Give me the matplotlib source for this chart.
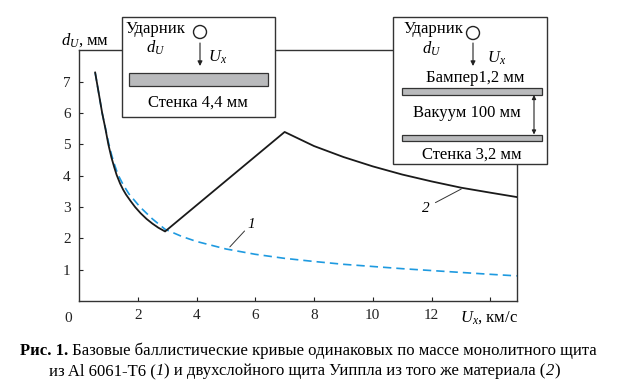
import matplotlib
matplotlib.use("Agg")
import matplotlib.pyplot as plt
from matplotlib.patches import Rectangle, Circle

plt.rcParams['font.family'] = ['Liberation Serif', 'DejaVu Serif']
plt.rcParams['mathtext.fontset'] = 'custom'
plt.rcParams['mathtext.rm'] = 'Liberation Serif'
plt.rcParams['mathtext.it'] = 'Liberation Serif:italic'

# ---- data ----
# curve 1: monolithic shield (blue dashed)
u1 = [0.55, 0.79, 0.9, 1.0, 1.1, 1.2, 1.33, 1.5, 1.7, 2.08, 2.5, 2.93, 3.5, 4.0, 5.0,
      6.0, 7.0, 8.0, 9.0, 10.0, 11.0, 12.0, 13.0, 14.0, 14.9]
d1 = [7.3, 6.0, 5.52, 5.08, 4.7, 4.38, 4.03, 3.72, 3.42, 3.0, 2.62, 2.29, 2.06, 1.9,
      1.66, 1.49, 1.36, 1.26, 1.17, 1.1, 1.03, 0.97, 0.91, 0.85, 0.80]
# curve 2: Whipple shield (black)
u2 = [0.55, 0.79, 0.9, 1.0, 1.1, 1.2, 1.28, 1.4, 1.5, 1.6, 1.75, 1.91, 2.1, 2.3, 2.5,
      2.7, 2.93, 7.0, 8.0, 9.0, 10.0, 11.0, 12.0, 13.0, 14.0, 14.9]
d2 = [7.3, 6.0, 5.5, 5.0, 4.6, 4.27, 4.03, 3.75, 3.56, 3.4, 3.2, 3.0, 2.8, 2.62, 2.47,
      2.34, 2.22, 5.4, 4.95, 4.6, 4.3, 4.04, 3.82, 3.62, 3.46, 3.32]
xticks = [2, 4, 6, 8, 10, 12, 14]
xticklabels = ['2', '4', '6', '8', '10', '12', '']
yticks = [1, 2, 3, 4, 5, 6, 7]

W, H = 617, 385
fig = plt.figure(figsize=(W / 100, H / 100), dpi=100)

def fx(px):
    return px / W

def fy(py):
    return 1 - py / H

L, R, T, B = 79, 516.7, 50, 300.9
ax = fig.add_axes([fx(L), fy(B), fx(R) - fx(L), fy(T) - fy(B)])
ax.plot(u1, d1, color='#1e9ae0', lw=1.2, ls=(0, (5, 3)), zorder=2)
ax.plot(u2, d2, color='#1a1a1a', lw=1.3, zorder=3)
ax.set_xlim(0, 14.9)
ax.set_ylim(0, 8.02)
ax.set_xticks(xticks)
ax.set_xticklabels(xticklabels)
ax.set_yticks(yticks)
ax.tick_params(direction='in', length=3, width=0.8, labelsize=11, pad=6, colors='#222222')
for s in ax.spines.values():
    s.set_linewidth(1.0)
    s.set_color('#333333')

# annotation leaders for curve numbers
ax.annotate('', xy=(5.07, 1.66), xytext=(5.7, 2.3),
            arrowprops=dict(arrowstyle='-', lw=0.7, color='#333333'))
ax.text(5.85, 2.45, '1', fontsize=11, style='italic', ha='center', va='center')
ax.annotate('', xy=(13.1, 3.62), xytext=(12.05, 3.1),
            arrowprops=dict(arrowstyle='-', lw=0.7, color='#333333'))
ax.text(11.8, 2.95, '2', fontsize=11, style='italic', ha='center', va='center')

# overlay in pixel coordinates for boxes and labels
ov = fig.add_axes([0, 0, 1, 1], zorder=5)
ov.set_xlim(0, W)
ov.set_ylim(H, 0)
ov.axis('off')
ov.patch.set_alpha(0)

fs = 12
gray = '#b9babc'

# axis labels
ov.text(61, 40, r'$d_U$' + ', мм', fontsize=fs, ha='left', va='center')
ov.text(518, 318, r'$U_x$' + ', км/с', fontsize=fs, ha='right', va='center')
ov.text(68, 318, '0', fontsize=11, ha='center', va='center', color='#222222')

# left box
ov.add_patch(Rectangle((122, 17), 153, 100, fc='white', ec='#333333', lw=1.0))
ov.text(126, 29, 'Ударник', fontsize=fs, ha='left', va='center')
ov.text(146, 48, r'$d_U$', fontsize=fs, ha='left', va='center')
ov.add_patch(Circle((200, 32), 6.5, fc='white', ec='#222222', lw=1.0))
ov.annotate('', xy=(200, 66), xytext=(200, 43),
            arrowprops=dict(arrowstyle='-|>', lw=0.8, color='#222222',
                            mutation_scale=7, shrinkA=0, shrinkB=0))
ov.text(208, 57, r'$U_x$', fontsize=fs, ha='left', va='center')
ov.add_patch(Rectangle((129, 73), 139, 13, fc=gray, ec='#333333', lw=0.9))
ov.text(198, 103, 'Стенка 4,4 мм', fontsize=fs, ha='center', va='center')

# right box
ov.add_patch(Rectangle((393.3, 17), 153.4, 147, fc='white', ec='#333333', lw=1.0))
ov.text(404, 29, 'Ударник', fontsize=fs, ha='left', va='center')
ov.text(422, 49, r'$d_U$', fontsize=fs, ha='left', va='center')
ov.add_patch(Circle((473, 33), 6.5, fc='white', ec='#222222', lw=1.0))
ov.annotate('', xy=(473, 66), xytext=(473, 43),
            arrowprops=dict(arrowstyle='-|>', lw=0.8, color='#222222',
                            mutation_scale=7, shrinkA=0, shrinkB=0))
ov.text(487, 58, r'$U_x$', fontsize=fs, ha='left', va='center')
ov.text(475, 78, 'Бампер1,2 мм', fontsize=fs, ha='center', va='center')
ov.add_patch(Rectangle((402, 88), 140, 6.5, fc=gray, ec='#333333', lw=0.9))
ov.text(467, 113, 'Вакуум 100 мм', fontsize=fs, ha='center', va='center')
ov.annotate('', xy=(534, 95), xytext=(534, 134.5),
            arrowprops=dict(arrowstyle='<|-|>', lw=0.8, color='#222222',
                            mutation_scale=6, shrinkA=0, shrinkB=0))
ov.add_patch(Rectangle((402, 134.5), 140, 6.5, fc=gray, ec='#333333', lw=0.9))
ov.text(472, 155, 'Стенка 3,2 мм', fontsize=fs, ha='center', va='center')

# caption
cfs = 12
fig.canvas.draw()
r = fig.canvas.get_renderer()

def place_line(x, y, pieces):
    for txt, kw in pieces:
        t = ov.text(x, y, txt, fontsize=cfs, ha='left', va='baseline', **kw)
        fig.canvas.draw()
        x = t.get_window_extent(r).x1 * W / fig.bbox.width

place_line(20, 355, [('Рис. 1.', {'fontweight': 'bold'}),
                     (' Базовые баллистические кривые одинаковых по массе монолитного щита', {})])
place_line(49, 375, [('из Al 6061-T6 (', {}), ('1', {'style': 'italic'}),
                     (') и двухслойного щита Уиппла из того же материала (', {}),
                     ('2', {'style': 'italic'}), (')', {})])

fig.savefig('out.png', dpi=100)
